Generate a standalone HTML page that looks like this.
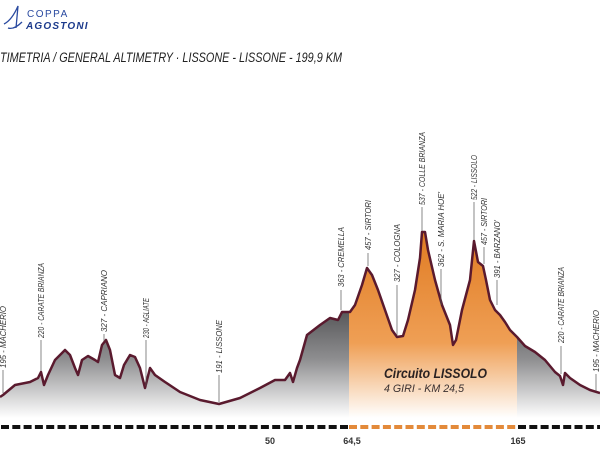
<!DOCTYPE html>
<html><head><meta charset="utf-8"><style>
html,body{margin:0;padding:0;background:#fff;width:600px;height:450px;overflow:hidden}
svg{display:block}
</style></head><body>
<svg width="600" height="450" viewBox="0 0 600 450" xmlns="http://www.w3.org/2000/svg" font-family="Liberation Sans, sans-serif">
<defs>
<linearGradient id="g" gradientUnits="userSpaceOnUse" x1="0" y1="300" x2="0" y2="418">
<stop offset="0" stop-color="#4a4a4c"/><stop offset="0.5" stop-color="#8e8e90"/><stop offset="1" stop-color="#ffffff"/></linearGradient>
<linearGradient id="o" gradientUnits="userSpaceOnUse" x1="0" y1="230" x2="0" y2="418">
<stop offset="0" stop-color="#e07b22"/><stop offset="0.6" stop-color="#ef9f55"/><stop offset="1" stop-color="#ffffff"/></linearGradient>
<clipPath id="oc"><rect x="349" y="0" width="168" height="450"/></clipPath>
</defs>
<!-- logo -->
<path d="M4 24 Q12 20 18 6 L16 28 M8 28 Q14 30 22 22" stroke="#2a4aa0" stroke-width="1.3" fill="none"/>
<text x="27" y="17" font-size="10" fill="#2a4aa0" letter-spacing="1.5">COPPA</text>
<text x="26" y="29" font-size="10" font-weight="bold" font-style="italic" fill="#1c3a8c" letter-spacing="1.2">AGOSTONI</text>
<text x="0" y="62" font-size="13.5" fill="#222" font-style="italic" textLength="342" lengthAdjust="spacingAndGlyphs">TIMETRIA / GENERAL ALTIMETRY  · LISSONE - LISSONE - 199,9 KM</text>
<!-- profile -->
<path d="M0 397 L3 395 L15 385 L30 382 L38 378 L41 372 L44 385 L48 375 L55 360 L65 350 L70 355 L75 368 L78 375 L82 360 L88 356 L95 360 L98 362 L102 345 L106 340 L110 350 L115 375 L120 378 L124 365 L130 355 L135 357 L140 368 L145 388 L150 368 L155 375 L165 382 L180 392 L200 400 L219 404 L240 398 L260 388 L275 380 L285 380 L290 373 L293 382 L297 368 L300 360 L307 335 L320 325 L330 318 L338 320 L342 312 L350 312 L355 305 L362 285 L367 268 L372 275 L378 290 L385 310 L392 330 L397 337 L403 336 L408 320 L415 290 L420 258 L422 232 L425 232 L428 250 L435 280 L442 305 L450 325 L453 345 L456 340 L462 310 L470 280 L474 241 L478 262 L483 266 L486 280 L490 300 L495 310 L500 315 L505 322 L510 330 L517 337 L525 346 L535 352 L545 360 L555 372 L560 376 L563 385 L565 373 L570 378 L580 385 L590 390 L600 393 L600 418 L0 418 Z" fill="url(#g)"/>
<path d="M0 397 L3 395 L15 385 L30 382 L38 378 L41 372 L44 385 L48 375 L55 360 L65 350 L70 355 L75 368 L78 375 L82 360 L88 356 L95 360 L98 362 L102 345 L106 340 L110 350 L115 375 L120 378 L124 365 L130 355 L135 357 L140 368 L145 388 L150 368 L155 375 L165 382 L180 392 L200 400 L219 404 L240 398 L260 388 L275 380 L285 380 L290 373 L293 382 L297 368 L300 360 L307 335 L320 325 L330 318 L338 320 L342 312 L350 312 L355 305 L362 285 L367 268 L372 275 L378 290 L385 310 L392 330 L397 337 L403 336 L408 320 L415 290 L420 258 L422 232 L425 232 L428 250 L435 280 L442 305 L450 325 L453 345 L456 340 L462 310 L470 280 L474 241 L478 262 L483 266 L486 280 L490 300 L495 310 L500 315 L505 322 L510 330 L517 337 L525 346 L535 352 L545 360 L555 372 L560 376 L563 385 L565 373 L570 378 L580 385 L590 390 L600 393 L600 418 L0 418 Z" fill="url(#o)" clip-path="url(#oc)"/>
<path d="M0 397 L3 395 L15 385 L30 382 L38 378 L41 372 L44 385 L48 375 L55 360 L65 350 L70 355 L75 368 L78 375 L82 360 L88 356 L95 360 L98 362 L102 345 L106 340 L110 350 L115 375 L120 378 L124 365 L130 355 L135 357 L140 368 L145 388 L150 368 L155 375 L165 382 L180 392 L200 400 L219 404 L240 398 L260 388 L275 380 L285 380 L290 373 L293 382 L297 368 L300 360 L307 335 L320 325 L330 318 L338 320 L342 312 L350 312 L355 305 L362 285 L367 268 L372 275 L378 290 L385 310 L392 330 L397 337 L403 336 L408 320 L415 290 L420 258 L422 232 L425 232 L428 250 L435 280 L442 305 L450 325 L453 345 L456 340 L462 310 L470 280 L474 241 L478 262 L483 266 L486 280 L490 300 L495 310 L500 315 L505 322 L510 330 L517 337 L525 346 L535 352 L545 360 L555 372 L560 376 L563 385 L565 373 L570 378 L580 385 L590 390 L600 393" fill="none" stroke="#5a1a2e" stroke-width="2.5" stroke-linejoin="round"/>
<!-- leader lines -->
<g stroke="#555" stroke-width="0.7">
<line x1="3" y1="370" x2="3" y2="393"/><line x1="41" y1="340" x2="41" y2="371"/><line x1="104" y1="334" x2="104" y2="341"/>
<line x1="146" y1="340" x2="146" y2="386"/><line x1="219" y1="375" x2="219" y2="402"/><line x1="341" y1="290" x2="341" y2="310"/>
<line x1="368" y1="253" x2="368" y2="266"/><line x1="397" y1="285" x2="397" y2="335"/><line x1="422" y1="207" x2="422" y2="231"/>
<line x1="441" y1="269" x2="441" y2="305"/><line x1="474" y1="202" x2="474" y2="240"/><line x1="484" y1="247" x2="484" y2="264"/>
<line x1="497" y1="280" x2="497" y2="305"/><line x1="561" y1="346" x2="561" y2="374"/><line x1="596" y1="374" x2="596" y2="391"/>
</g>
<g font-size="8.5" font-style="italic" fill="#333">
<text transform="translate(6,368) rotate(-90)" textLength="62" lengthAdjust="spacingAndGlyphs">195 - MACHERIO</text>
<text transform="translate(44,338) rotate(-90)" textLength="75" lengthAdjust="spacingAndGlyphs">220 - CARATE BRIANZA</text>
<text transform="translate(107,332) rotate(-90)" textLength="62" lengthAdjust="spacingAndGlyphs">327 - CAPRIANO</text>
<text transform="translate(149,338) rotate(-90)" textLength="40" lengthAdjust="spacingAndGlyphs">230 - AGLIATE</text>
<text transform="translate(222,373) rotate(-90)" textLength="53" lengthAdjust="spacingAndGlyphs">191 - LISSONE</text>
<text transform="translate(344,287) rotate(-90)" textLength="60" lengthAdjust="spacingAndGlyphs">363 - CREMELLA</text>
<text transform="translate(371,250) rotate(-90)" textLength="50" lengthAdjust="spacingAndGlyphs">457 - SIRTORI</text>
<text transform="translate(400,282) rotate(-90)" textLength="58" lengthAdjust="spacingAndGlyphs">327 - COLOGNA</text>
<text transform="translate(425,205) rotate(-90)" textLength="73" lengthAdjust="spacingAndGlyphs">537 - COLLE BRIANZA</text>
<text transform="translate(444,267) rotate(-90)" textLength="75" lengthAdjust="spacingAndGlyphs">362 - S. MARIA HOE'</text>
<text transform="translate(477,200) rotate(-90)" textLength="45" lengthAdjust="spacingAndGlyphs">522 - LISSOLO</text>
<text transform="translate(487,245) rotate(-90)" textLength="47" lengthAdjust="spacingAndGlyphs">457 - SIRTORI</text>
<text transform="translate(500,278) rotate(-90)" textLength="58" lengthAdjust="spacingAndGlyphs">391 - BARZANO'</text>
<text transform="translate(564,343) rotate(-90)" textLength="76" lengthAdjust="spacingAndGlyphs">220 - CARATE BRIANZA</text>
<text transform="translate(599,372) rotate(-90)" textLength="62" lengthAdjust="spacingAndGlyphs">195 - MACHERIO</text>
</g>
<text x="384" y="378" font-size="13.5" font-weight="bold" font-style="italic" fill="#2a2222" textLength="103" lengthAdjust="spacingAndGlyphs">Circuito LISSOLO</text>
<text x="384" y="392" font-size="11" font-style="italic" fill="#3a3030" textLength="80" lengthAdjust="spacingAndGlyphs">4 GIRI - KM 24,5</text>
<!-- ruler -->
<line x1="1" y1="427" x2="349" y2="427" stroke="#111" stroke-width="4" stroke-dasharray="8 3.3"/>
<line x1="349" y1="427" x2="517" y2="427" stroke="#e38a3a" stroke-width="4" stroke-dasharray="8 3.3"/>
<line x1="518" y1="427" x2="600" y2="427" stroke="#111" stroke-width="4" stroke-dasharray="8 3.3"/>
<g font-size="9" font-weight="bold" fill="#333" text-anchor="middle">
<text x="270" y="444">50</text><text x="352" y="444">64,5</text><text x="518" y="444">165</text>
</g>
</svg>
</body></html>
